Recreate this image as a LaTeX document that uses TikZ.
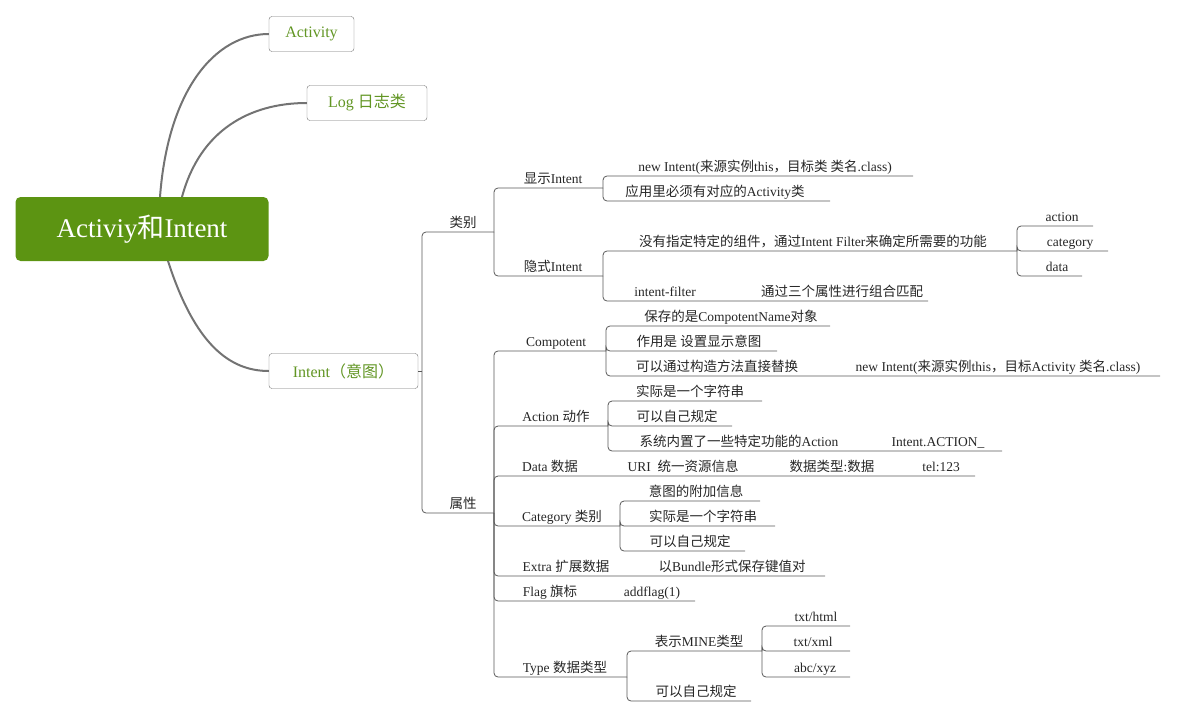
\documentclass[tikz,border=0pt]{standalone}
\usepackage{fontspec}
\setmainfont{Liberation Serif}
\newfontfamily\cjk{Noto Sans CJK SC}
\newcommand\zh[1]{{\cjk #1}}
\definecolor{mg}{RGB}{92,148,18}
\definecolor{tg}{RGB}{98,150,36}
\begin{document}
\begin{tikzpicture}[x=1pt,y=-1pt,
  lbl/.style={inner sep=0pt,anchor=base,font=\fontsize{13.5}{15}\selectfont,text=black!85},
  ln/.style={draw=black!65,line width=0.8pt,rounded corners=4pt},
  curve/.style={draw=black!55,line width=2pt},
  bbox/.style={draw=black!55,fill=white,rounded corners=3pt,minimum height=35pt,font=\fontsize{16}{18}\selectfont,text=tg}]
\useasboundingbox (0,0) rectangle (1178,717);
\newcommand\topic[6]{\coordinate (#1s) at (#2,#4); \coordinate (#1e) at (#3,#4);
  \node[lbl] (#1) at (#5,#4-5) {#6};}
% main
\node[fill=mg,rounded corners=5pt,minimum width=253pt,minimum height=64pt,text=white,font=\fontsize{27}{30}\selectfont] (main) at (142,229) {Activiy\zh{和}Intent};
\node[bbox,minimum width=85pt] (act) at (311.5,34) {Activity};
\node[bbox,minimum width=120pt] (log) at (367,103) {Log \zh{日志类}};
\node[bbox,minimum width=149pt] (int) at (343.5,371) {Intent\zh{（意图）}};
\draw[curve] (160,197) .. controls (168,90) and (215,34) .. (act.west);
\draw[curve] (182,197) .. controls (200,130) and (250,103) .. (log.west);
\draw[curve] (168,261) .. controls (195,345) and (230,371) .. (int.west);
\coordinate (st) at (422,371);
\draw[ln] (int.east) -- (st);
% level 2
\topic{lb}{422}{494}{232}{463}{\zh{类别}}
\topic{sx}{422}{494}{513}{463}{\zh{属性}}
\draw[ln] (st) |- (lbe); \draw[ln] (st) |- (sxe);
% 类别
\topic{xs}{494}{603}{188}{553}{\zh{显示}Intent}
\topic{ys}{494}{603}{276}{553}{\zh{隐式}Intent}
\draw[ln] (lbe) |- (xse); \draw[ln] (lbe) |- (yse);
\topic{x1}{603}{913}{176}{765}{new Intent(\zh{来源实例}this\zh{，目标类 类名}.class)}
\topic{x2}{603}{830}{201}{715}{\zh{应用里必须有对应的}Activity\zh{类}}
\draw[ln] (xse) |- (x1e); \draw[ln] (xse) |- (x2e);
\topic{y1}{603}{1017}{251}{813}{\zh{没有指定特定的组件，通过}Intent Filter\zh{来确定所需要的功能}}
\topic{y2}{603}{928}{301}{665}{intent-filter}
\node[lbl] (y2b) at (842,296) {\zh{通过三个属性进行组合匹配}};
\draw[ln] (yse) |- (y1e); \draw[ln] (yse) |- (y2e);
\topic{a1}{1017}{1093}{226}{1062}{action}
\topic{a2}{1017}{1108}{251}{1070}{category}
\topic{a3}{1017}{1082}{276}{1057}{data}
\draw[ln] (y1e) |- (a1e); \draw[ln] (y1e) |- (a2e); \draw[ln] (y1e) |- (a3e);
% 属性
\topic{cp}{494}{606}{351}{556}{Compotent}
\topic{ac}{494}{608}{426}{556}{Action \zh{动作}}
\topic{dt}{494}{975}{476}{550}{Data \zh{数据}}
\topic{ct}{494}{620}{526}{562}{Category \zh{类别}}
\topic{ex}{494}{825}{576}{566}{Extra \zh{扩展数据}}
\topic{fl}{494}{695}{601}{550}{Flag \zh{旗标}}
\topic{ty}{494}{627}{677}{565}{Type \zh{数据类型}}
\foreach \n in {cp,ac,dt,ct,ex,fl,ty} \draw[ln] (sxe) |- (\n e);
\topic{c1}{606}{830}{326}{731}{\zh{保存的是}CompotentName\zh{对象}}
\topic{c2}{606}{777}{351}{699}{\zh{作用是 设置显示意图}}
\topic{c3}{606}{1160}{376}{717}{\zh{可以通过构造方法直接替换}}
\node[lbl] (c3b) at (998,371) {new Intent(\zh{来源实例}this\zh{，目标}Activity \zh{类名}.class)};
\foreach \n in {c1,c2,c3} \draw[ln] (cpe) |- (\n e);
\topic{d1}{608}{762}{401}{690}{\zh{实际是一个字符串}}
\topic{d2}{608}{732}{426}{677}{\zh{可以自己规定}}
\topic{d3}{608}{1002}{451}{739}{\zh{系统内置了一些特定功能的}Action}
\node[lbl] (d3b) at (938,446) {Intent.ACTION\_};
\foreach \n in {d1,d2,d3} \draw[ln] (ace) |- (\n e);
\node[lbl] (dt1) at (683,471) {URI\ \ \zh{统一资源信息}};
\node[lbl] (dt2) at (832,471) {\zh{数据类型}:\zh{数据}};
\node[lbl] (dt3) at (941,471) {tel:123};
\topic{g1}{620}{760}{501}{696}{\zh{意图的附加信息}}
\topic{g2}{620}{775}{526}{703}{\zh{实际是一个字符串}}
\topic{g3}{620}{745}{551}{690}{\zh{可以自己规定}}
\foreach \n in {g1,g2,g3} \draw[ln] (cte) |- (\n e);
\node[lbl] (ex1) at (732,571) {\zh{以}Bundle\zh{形式保存键值对}};
\node[lbl] (fl1) at (652,596) {addflag(1)};
\topic{t1}{627}{762}{651}{699}{\zh{表示}MINE\zh{类型}}
\topic{t2}{627}{751}{701}{696}{\zh{可以自己规定}}
\draw[ln] (tye) |- (t1e); \draw[ln] (tye) |- (t2e);
\topic{m1}{762}{850}{626}{816}{txt/html}
\topic{m2}{762}{850}{651}{813}{txt/xml}
\topic{m3}{762}{850}{677}{815}{abc/xyz}
\foreach \n in {m1,m2,m3} \draw[ln] (t1e) |- (\n e);
\end{tikzpicture}
\end{document}
